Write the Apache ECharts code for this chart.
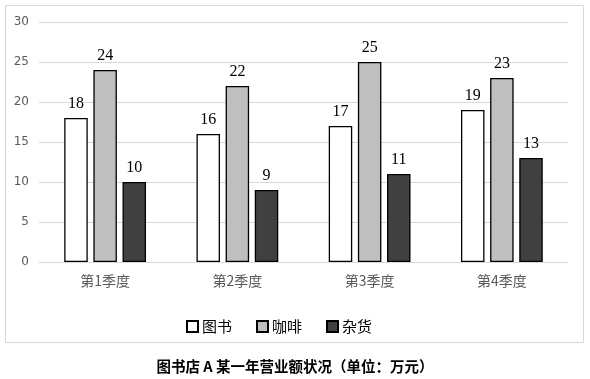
<!DOCTYPE html>
<html><head><meta charset="utf-8">
<script src="https://cdn.jsdelivr.net/npm/echarts@6/dist/echarts.min.js"></script>
<style>html,body{margin:0;padding:0;background:#fff}#c{width:590px;height:379px}</style>
</head><body><div id="c"></div>
<script>
const categories = ['第1季度', '第2季度', '第3季度', '第4季度'];
const books = [18, 16, 17, 19];
const coffee = [24, 22, 25, 23];
const misc = [10, 9, 11, 13];
const seriesNames = ['图书', '咖啡', '杂货'];
const yTicks = [0, 5, 10, 15, 20, 25, 30];
const titleText = '图书店 A 某一年营业额状况（单位：万元）';

const chart = echarts.init(document.getElementById('c'), null, {renderer: 'canvas'});
const label = {show: true, position: 'top', distance: 6, color: '#000', fontFamily: 'Liberation Serif', fontSize: 16};
const mk = (name, data, color) => ({
  name, type: 'bar', data, barWidth: 23.5, barGap: '24%',
  itemStyle: {color, borderColor: '#000', borderWidth: 1.3},
  label
});
chart.setOption({
  animation: false,
  graphic: [{type: 'rect', shape: {x: 5.5, y: 5.5, width: 578, height: 337}, style: {fill: 'none', stroke: '#d9d9d9', lineWidth: 1}, z: -1}],
  title: {text: titleText, left: 'center', top: 354, textStyle: {fontFamily: 'Noto Sans CJK SC', fontWeight: 'bold', fontSize: 14.5, color: '#000'}},
  legend: {data: seriesNames, top: 314, left: 181, icon: 'rect', itemWidth: 11, itemHeight: 11, itemGap: 24,
    textStyle: {fontFamily: 'Noto Sans CJK SC', fontSize: 15, color: '#000', padding: [0, 0, 0, -1]}},
  grid: {left: 39, right: 22, top: 22, bottom: 117, containLabel: false},
  xAxis: {type: 'category', data: categories,
    axisLine: {lineStyle: {color: '#d9d9d9'}}, axisTick: {show: false},
    axisLabel: {color: '#595959', fontSize: 14, margin: 12, fontFamily: 'Noto Sans CJK SC'}},
  yAxis: {type: 'value', min: 0, max: 30, interval: 5,
    axisLine: {show: false}, axisTick: {show: false},
    splitLine: {lineStyle: {color: '#d9d9d9'}},
    axisLabel: {color: '#595959', fontSize: 12, margin: 10, fontFamily: 'DejaVu Sans',
      formatter: v => yTicks.includes(v) ? String(v) : ''}},
  series: [mk(seriesNames[0], books, '#ffffff'), mk(seriesNames[1], coffee, '#bfbfbf'), mk(seriesNames[2], misc, '#404040')]
});
</script></body></html>
